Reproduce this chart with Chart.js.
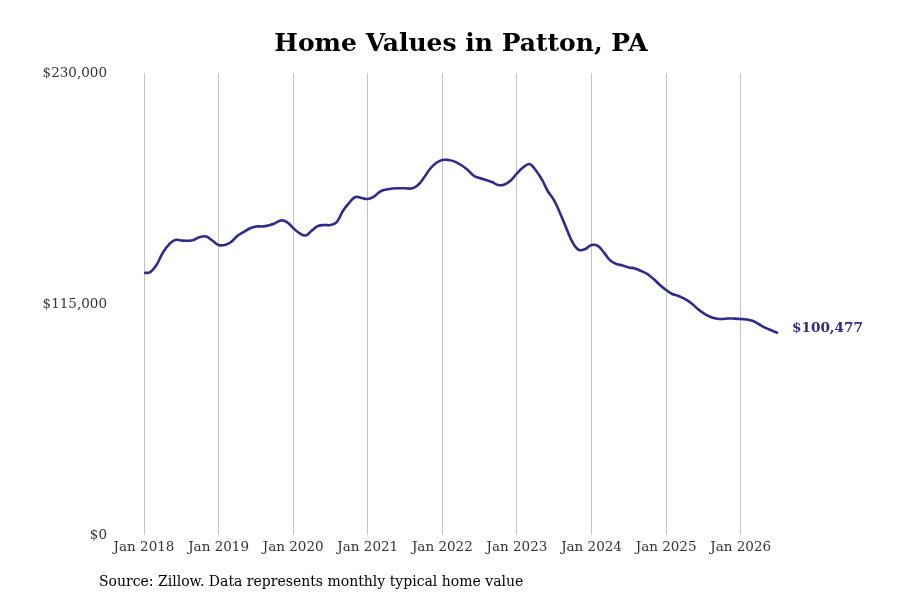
<!DOCTYPE html>
<html>
<head>
<meta charset="utf-8">
<script src="https://cdn.jsdelivr.net/npm/chart.js@4"></script>
<style>
  html, body { margin: 0; padding: 0; background: #fff; }
  #wrap { width: 900px; height: 600px; position: relative; }
</style>
</head>
<body>
<div id="wrap"><canvas id="c" width="900" height="600"></canvas></div>
<script>
// ---- Data ----
const chartTitle = 'Home Values in Patton, PA';
const sourceNote = 'Source: Zillow. Data represents monthly typical home value';
const monthNames = ['Jan','Feb','Mar','Apr','May','Jun','Jul','Aug','Sep','Oct','Nov','Dec'];
const startYear = 2018;
const homeValues = [
  // 2018
  130400, 130900, 134400, 140400, 144600, 146900, 146600, 146500, 146900, 148400, 148600, 146600,
  // 2019
  144400, 144400, 145900, 148900, 150800, 152600, 153600, 153600, 154100, 155100, 156600, 155800,
  // 2020
  152800, 150300, 149100, 151600, 153800, 154300, 154300, 155800, 161300, 165300, 168300, 167800,
  // 2021
  167300, 168500, 171000, 172000, 172500, 172600, 172600, 172500, 174000, 177700, 182200, 185200,
  // 2022
  186700, 186700, 185900, 184200, 182000, 179000, 177700, 176700, 175700, 174200, 174500, 176500,
  // 2023
  180000, 183000, 184700, 181700, 177000, 171000, 166500, 159800, 152300, 145400, 141900, 142400,
  // 2024
  144400, 143900, 140600, 136700, 134900, 134200, 133200, 132700, 131400, 129900, 127400, 124500,
  // 2025
  122000, 120000, 119000, 117500, 115500, 112800, 110500, 108800, 107800, 107500, 107800, 107700,
  // 2026
  107500, 107300, 106500, 104800, 103100, 101800, 100477
];
const yTicks = [0, 115000, 230000];
const lineColor = '#2f2b8a';

// Category labels (one per month)
const monthLabels = homeValues.map((_, i) => monthNames[i % 12] + ' ' + (startYear + Math.floor(i / 12)));

const fmtMoney = v => '$' + Math.round(v).toLocaleString('en-US');

const extrasPlugin = {
  id: 'extras',
  afterDatasetsDraw(chart) {
    const ctx = chart.ctx;
    const meta = chart.getDatasetMeta(0);
    const last = meta.data[meta.data.length - 1];
    ctx.save();
    ctx.font = 'bold 13.6px "DejaVu Serif"';
    ctx.fillStyle = lineColor;
    ctx.textAlign = 'left';
    ctx.textBaseline = 'middle';
    ctx.fillText(fmtMoney(homeValues[homeValues.length - 1]), last.x + 14, last.y - 5);
    ctx.restore();
  },
  afterDraw(chart) {
    const ctx = chart.ctx;
    ctx.save();
    ctx.fillStyle = '#000';
    ctx.textBaseline = 'middle';
    ctx.font = 'bold 25px "DejaVu Serif"';
    ctx.textAlign = 'center';
    ctx.fillText(chartTitle, 461, 44);
    ctx.font = '14px "DejaVu Serif"';
    ctx.textAlign = 'left';
    ctx.fillText(sourceNote, 99, 582);
    ctx.restore();
  }
};

new Chart(document.getElementById('c'), {
  type: 'line',
  data: {
    labels: monthLabels,
    datasets: [{
      data: homeValues,
      borderColor: lineColor,
      borderWidth: 2.6,
      pointRadius: 0,
      tension: 0.4,
      fill: false
    }]
  },
  options: {
    responsive: false,
    animation: false,
    devicePixelRatio: 1,
    layout: { padding: { left: 0, right: 122, top: 73, bottom: 0 } },
    plugins: {
      legend: { display: false },
      tooltip: { enabled: false },
      title: { display: false }
    },
    scales: {
      x: {
        type: 'category',
        offset: false,
        border: { display: false },
        grid: {
          drawTicks: false,
          lineWidth: 1,
          color: ctx => (ctx.index % 12 === 0 ? '#c4c4c4' : 'rgba(0,0,0,0)')
        },
        ticks: {
          autoSkip: false,
          maxRotation: 0,
          padding: 4,
          color: '#333',
          font: { family: 'DejaVu Serif', size: 13.5 },
          callback: function(val, idx) { return idx % 12 === 0 ? this.getLabelForValue(val) : ''; }
        },
        afterFit: s => { s.height = 65; }
      },
      y: {
        min: 0,
        max: 230000,
        border: { display: false },
        grid: { display: false, drawTicks: false },
        afterBuildTicks: s => { s.ticks = yTicks.map(v => ({ value: v })); },
        ticks: {
          padding: 37,
          color: '#333',
          font: { family: 'DejaVu Serif', size: 13.5 },
          callback: v => fmtMoney(v)
        },
        afterFit: s => { s.width = 144; }
      }
    }
  },
  plugins: [extrasPlugin]
});
</script>
</body>
</html>
